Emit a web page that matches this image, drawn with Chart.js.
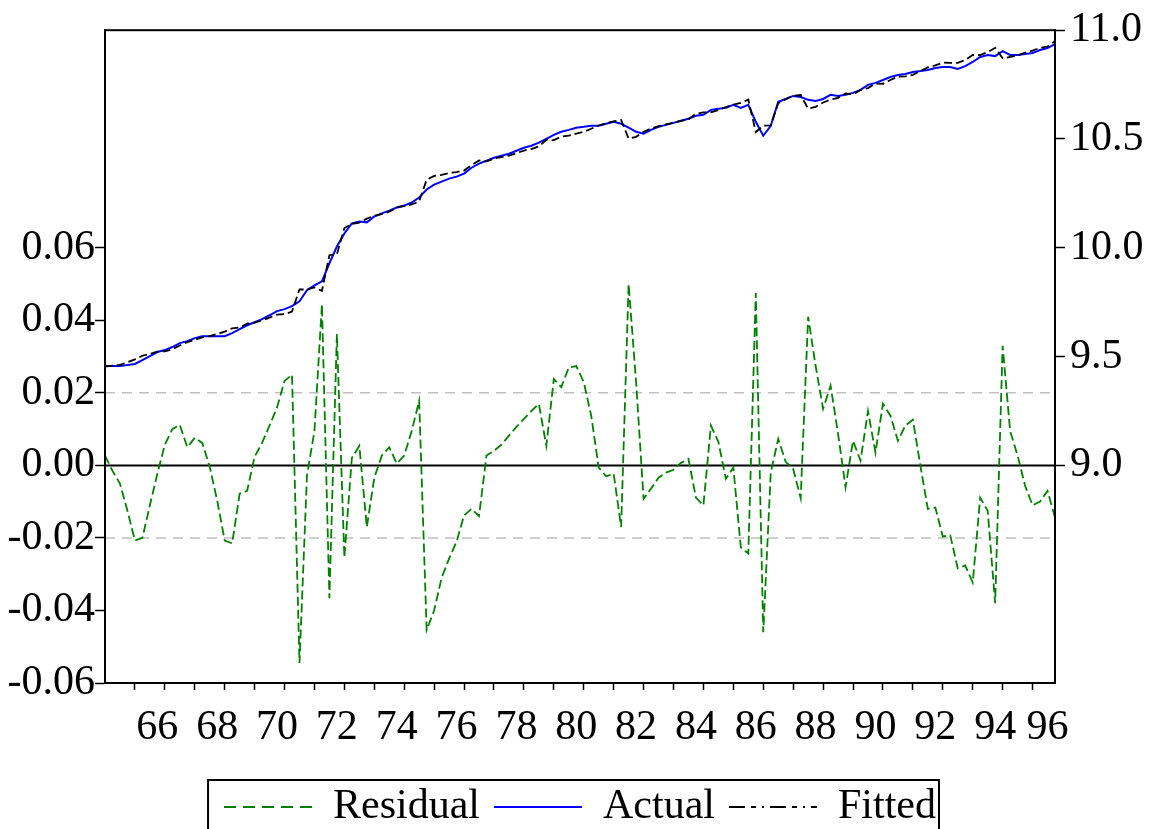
<!DOCTYPE html>
<html>
<head>
<meta charset="utf-8">
<title>Residual / Actual / Fitted</title>
<script src="https://cdn.jsdelivr.net/npm/chart.js@4/dist/chart.umd.min.js"></script>
<style>
    html, body { margin: 0; padding: 0; background: #fff; }
</style>
</head>
<body>
<canvas id="resid-graph" width="1153" height="829"></canvas>
<script>
// quarterly sample 1964Q2 - 1996Q1
const quarters = [];
for (let i = 0; i < 128; i++) {
    const q = (1 + i) % 4 + 1;
    const year = 1964 + Math.floor((i + 1) / 4);
    quarters.push(year + 'Q' + q);
}

// residuals (left axis)
const residual = [
    0.0027, -0.0015, -0.0050,
    -0.0125, -0.0207, -0.0200, -0.0110,
    -0.0023, 0.0057, 0.0100, 0.0112,
    0.0050, 0.0076, 0.0062, -0.0004,
    -0.0097, -0.0207, -0.0215, -0.0078,
    -0.0070, 0.0024, 0.0062, 0.0110,
    0.0160, 0.0233, 0.0250, -0.0545,
    -0.0028, 0.0095, 0.0444, -0.0366,
    0.0362, -0.0254, 0.0020, 0.0054,
    -0.0170, -0.0034, 0.0027, 0.0050,
    0.0005, 0.0027, 0.0095, 0.0178,
    -0.0454, -0.0400, -0.0310, -0.0257,
    -0.0210, -0.0138, -0.0120, -0.0140,
    0.0027, 0.0040, 0.0057, 0.0082,
    0.0106, 0.0128, 0.0150, 0.0170,
    0.0054, 0.0238, 0.0216, 0.0270,
    0.0274, 0.0230, 0.0137, -0.0006,
    -0.0030, -0.0023, -0.0170, 0.0500,
    0.0230, -0.0092, -0.0064, -0.0034,
    -0.0020, -0.0012, 0.0007, 0.0018,
    -0.0089, -0.0110, 0.0110, 0.0065,
    -0.0037, -0.0006, -0.0226, -0.0243,
    0.0475, -0.0460, -0.0020, 0.0073,
    0.0010, -0.0010, -0.0090, 0.0410,
    0.0274, 0.0156, 0.0220, 0.0087,
    -0.0060, 0.0068, 0.0013, 0.0150,
    0.0035, 0.0170, 0.0137, 0.0068,
    0.0110, 0.0126, 0.0000, -0.0120,
    -0.0116, -0.0196, -0.0193, -0.0284,
    -0.0276, -0.0323, -0.0089, -0.0125,
    -0.0380, 0.0330, 0.0095, 0.0027,
    -0.0056, -0.0110, -0.0100, -0.0070,
    -0.0144
];

// actual (right axis)
const actual = [
    9.457, 9.457, 9.457,
    9.461, 9.466, 9.484, 9.502,
    9.521, 9.530, 9.544, 9.562,
    9.571, 9.585, 9.594, 9.594,
    9.594, 9.594, 9.608, 9.626,
    9.644, 9.658, 9.672, 9.690,
    9.709, 9.718, 9.732, 9.754,
    9.805, 9.827, 9.846, 9.929,
    10.006, 10.066, 10.112, 10.121,
    10.117, 10.144, 10.158, 10.171,
    10.185, 10.194, 10.208, 10.231,
    10.268, 10.290, 10.304, 10.318,
    10.327, 10.341, 10.368, 10.387,
    10.400, 10.414, 10.423, 10.432,
    10.446, 10.460, 10.469, 10.483,
    10.501, 10.519, 10.533, 10.542,
    10.552, 10.556, 10.561, 10.561,
    10.570, 10.579, 10.570, 10.552,
    10.533, 10.524, 10.542, 10.556,
    10.565, 10.574, 10.584, 10.593,
    10.607, 10.611, 10.634, 10.639,
    10.643, 10.657, 10.643, 10.657,
    10.579, 10.515, 10.561, 10.671,
    10.684, 10.698, 10.693, 10.680,
    10.675, 10.684, 10.703, 10.698,
    10.703, 10.712, 10.726, 10.749,
    10.758, 10.771, 10.785, 10.794,
    10.799, 10.808, 10.812, 10.817,
    10.826, 10.831, 10.831, 10.822,
    10.835, 10.854, 10.877, 10.886,
    10.881, 10.904, 10.886, 10.886,
    10.891, 10.895, 10.909, 10.918,
    10.936
];

// fitted (right axis)
const fitted = [
    9.454, 9.459, 9.462,
    9.474, 9.487, 9.504, 9.513,
    9.523, 9.524, 9.534, 9.551,
    9.566, 9.577, 9.588, 9.594,
    9.604, 9.615, 9.630, 9.634,
    9.651, 9.656, 9.666, 9.679,
    9.693, 9.695, 9.707, 9.809,
    9.808, 9.818, 9.802, 9.966,
    9.970, 10.091, 10.110, 10.116,
    10.134, 10.147, 10.155, 10.166,
    10.185, 10.191, 10.199, 10.213,
    10.313, 10.330, 10.335, 10.344,
    10.348, 10.355, 10.380, 10.401,
    10.397, 10.410, 10.417, 10.424,
    10.435, 10.447, 10.454, 10.466,
    10.496, 10.495, 10.511, 10.515,
    10.525, 10.533, 10.547, 10.562,
    10.573, 10.581, 10.587, 10.502,
    10.510, 10.533, 10.548, 10.559,
    10.567, 10.575, 10.583, 10.591,
    10.616, 10.622, 10.623, 10.633,
    10.647, 10.658, 10.666, 10.681,
    10.532, 10.561, 10.563, 10.664,
    10.683, 10.699, 10.702, 10.639,
    10.648, 10.668, 10.681, 10.689,
    10.709, 10.705, 10.725, 10.734,
    10.755, 10.754, 10.771, 10.787,
    10.788, 10.795, 10.812, 10.829,
    10.838, 10.851, 10.850, 10.850,
    10.863, 10.886, 10.886, 10.899,
    10.919, 10.871, 10.877, 10.883,
    10.897, 10.906, 10.919, 10.925,
    10.950
];

const bandLevels = [0.02, -0.02];
const lastObs = quarters.length - 1;

Chart.defaults.font.family = "'Liberation Serif', 'Times New Roman', serif";
Chart.defaults.font.size = 42;
Chart.defaults.color = '#000';

// grey +-1 s.e. band, zero line, plot frame and legend box
const framePlugin = {
    id: 'frame',
    beforeDatasetsDraw(chart) {
        const {ctx, chartArea: a, scales: {y}} = chart;
        ctx.save();
        ctx.lineWidth = 1.5;
        ctx.strokeStyle = '#c0c0c0';
        ctx.setLineDash([10, 7]);
        bandLevels.forEach(v => {
            const py = y.getPixelForValue(v);
            ctx.beginPath();
            ctx.moveTo(a.left, py);
            ctx.lineTo(a.right, py);
            ctx.stroke();
        });
        ctx.setLineDash([]);
        ctx.strokeStyle = '#000';
        ctx.lineWidth = 2;
        const y0 = y.getPixelForValue(0);
        ctx.beginPath();
        ctx.moveTo(a.left, y0);
        ctx.lineTo(a.right, y0);
        ctx.stroke();
        ctx.restore();
    },
    afterDraw(chart) {
        const {ctx, chartArea: a, legend} = chart;
        ctx.save();
        ctx.strokeStyle = '#000';
        ctx.lineWidth = 2;
        ctx.strokeRect(a.left, a.top, a.right - a.left, a.bottom - a.top);
        const boxes = legend.legendHitBoxes;
        const first = boxes[0];
        const last = boxes[boxes.length - 1];
        const left = first.left - 16;
        const right = last.left + last.width + 3;
        ctx.strokeRect(left, 780, right - left, 80);
        ctx.restore();
    }
};

const legendDash = [[12, 7], [], [16, 6, 5, 6, 2, 6]];

new Chart(document.getElementById('resid-graph'), {
    type: 'line',
    data: {
        labels: quarters,
        datasets: [{
            label: 'Residual',
            data: residual,
            yAxisID: 'y',
            borderColor: '#008000',
            borderWidth: 1.8,
            borderDash: [9, 4],
            order: 2,
        }, {
            label: 'Actual',
            data: actual,
            yAxisID: 'y1',
            borderColor: '#0000ff',
            borderWidth: 2,
            order: 1,
        }, {
            label: 'Fitted',
            data: fitted,
            yAxisID: 'y1',
            borderColor: '#000000',
            borderWidth: 1.8,
            borderDash: [8, 4],
            order: 0,
        }]
    },
    options: {
        responsive: false,
        animation: false,
        devicePixelRatio: 1,
        layout: { padding: { top: 28, left: 0, right: 0, bottom: 0 } },
        elements: {
            point: { radius: 0 },
            line: { tension: 0 },
        },
        plugins: {
            tooltip: { enabled: false },
            legend: {
                position: 'bottom',
                fullSize: false,
                maxHeight: 57,
                labels: {
                    usePointStyle: true,
                    pointStyleWidth: 88,
                    padding: 14,
                    color: '#000',
                    font: { size: 42 },
                    generateLabels: (chart) => chart.data.datasets.map((ds, i) => ({
                        text: ds.label,
                        datasetIndex: i,
                        strokeStyle: ds.borderColor,
                        fillStyle: ds.borderColor,
                        lineWidth: 2,
                        lineDash: legendDash[i],
                        pointStyle: 'line',
                        hidden: false,
                    })),
                },
            },
        },
        scales: {
            x: {
                type: 'category',
                grid: {
                    drawOnChartArea: false,
                    drawTicks: true,
                    tickLength: 7,
                    tickWidth: 1.5,
                    tickColor: (c) => (c.tick && c.tick.value === lastObs ? 'rgba(0,0,0,0)' : '#000'),
                },
                border: { display: true, color: '#000', width: 2 },
                afterBuildTicks: (s) => {
                    s.ticks = s.ticks.filter(t =>
                        (t.value > 0 && quarters[t.value].endsWith('Q2')) || t.value === lastObs);
                },
                afterFit: (s) => { s.height = 89; },
                ticks: {
                    autoSkip: false,
                    maxRotation: 0,
                    minRotation: 0,
                    padding: 13,
                    labelOffset: -7.5,
                    color: '#000',
                    font: { size: 42 },
                    callback: (value) => {
                        const year = parseInt(quarters[value].slice(0, 4), 10);
                        return year % 2 === 0 ? String(year).slice(2) : '';
                    },
                },
            },
            y: {
                position: 'left',
                min: -0.06,
                max: 0.12,
                grid: { drawOnChartArea: false, drawTicks: true, tickLength: 10, tickColor: '#000', tickWidth: 1.5 },
                border: { display: true, color: '#000', width: 2 },
                afterBuildTicks: (s) => {
                    s.ticks = s.ticks.filter(t => t.value < 0.0601);
                },
                afterFit: (s) => { s.width = 105; },
                ticks: {
                    stepSize: 0.02,
                    padding: 0,
                    color: '#000',
                    font: { size: 42 },
                    callback: (value) => value.toFixed(2),
                },
            },
            y1: {
                position: 'right',
                min: 8,
                max: 11,
                grid: { drawOnChartArea: false, drawTicks: true, tickLength: 10, tickColor: '#000', tickWidth: 1.5 },
                border: { display: true, color: '#000', width: 2 },
                afterBuildTicks: (s) => {
                    s.ticks = s.ticks.filter(t => t.value > 8.99);
                },
                afterFit: (s) => { s.width = 98; },
                ticks: {
                    stepSize: 0.5,
                    padding: 5,
                    color: '#000',
                    font: { size: 42 },
                    callback: (value) => value.toFixed(1),
                },
            },
        },
    },
    plugins: [framePlugin],
});
</script>
</body>
</html>
